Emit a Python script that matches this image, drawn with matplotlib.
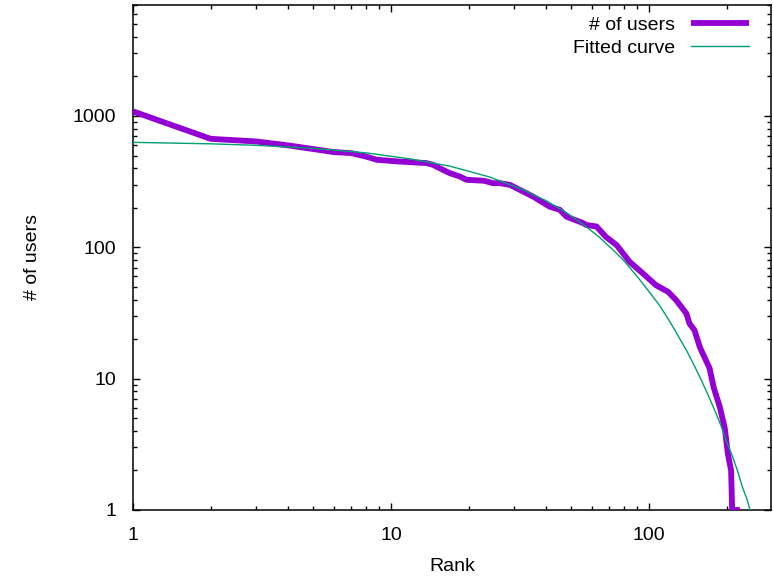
import matplotlib
matplotlib.use("Agg")
import matplotlib.pyplot as plt
from matplotlib.ticker import FixedLocator, LogLocator, NullFormatter, FixedFormatter

plt.rcParams['font.family'] = ['Liberation Sans', 'DejaVu Sans']

rank = [1, 2, 3, 4, 5, 6, 7, 8, 8.8, 10, 10.8, 13.7, 14.5, 15.9, 16.9, 18.5, 19.6,
        23, 24.8, 26.4, 28.9, 35.6, 41.2, 45.1, 47.9, 55.5, 57.1, 62.6, 68.1,
        74.9, 84.1, 94.9, 106.4, 118.6, 127.4, 139.5, 143.5, 150, 157.4, 159.5,
        171.7, 178, 188, 196.6, 202, 208, 210, 225]
users = [1084, 670, 640, 597, 560, 531, 522, 491, 464, 455, 450, 438, 426, 389, 367, 346, 327,
         321, 308, 308, 299, 243, 204, 193, 171, 153, 148, 144, 120,
         104, 77.6, 63, 51.5, 45.8, 39.6, 31.4, 26.3, 23.4, 17.4, 16.4,
         12.0, 8.6, 6.1, 4.2, 2.7, 2.0, 1, 1]

# Fitted curve
fit_rank = [1, 2, 3, 5, 8, 12, 17, 24, 32, 40, 48, 56, 64, 72, 80, 90, 100, 110,
            120, 130, 140, 150, 160, 170, 180, 190, 200, 210, 220, 230, 240, 250]
fit_users = [630, 614, 598, 567, 524, 470, 414, 344, 278, 226, 183, 148, 120, 97,
             79, 60, 46, 36, 27.5, 21, 16.3, 12.5, 9.6, 7.4, 5.7, 4.4, 3.3, 2.6,
             2.0, 1.5, 1.2, 0.9]

x_ticks = [1, 10, 100]
y_ticks = [1, 10, 100, 1000]

fig = plt.figure(figsize=(7.73, 5.77), dpi=100)
ax = fig.add_axes([133 / 773, 1 - 510 / 577, (771 - 133) / 773, (510 - 5) / 577])

ax.plot(rank, users, color='#9400d3', lw=4.2, label='# of users',
        solid_joinstyle='miter', solid_capstyle='butt', zorder=3)
ax.plot(fit_rank, fit_users, color='#009e73', lw=1.0, label='Fitted curve', zorder=4)

ax.set_xscale('log')
ax.set_yscale('log')
ax.set_xlim(1, 297)
ax.set_ylim(1, 7000)

ax.xaxis.set_major_locator(FixedLocator(x_ticks))
ax.xaxis.set_major_formatter(FixedFormatter([str(v) for v in x_ticks]))
ax.yaxis.set_major_locator(FixedLocator(y_ticks))
ax.yaxis.set_major_formatter(FixedFormatter([str(v) for v in y_ticks]))
ax.xaxis.set_minor_locator(LogLocator(base=10, subs=range(2, 10)))
ax.yaxis.set_minor_locator(LogLocator(base=10, subs=range(2, 10)))
ax.xaxis.set_minor_formatter(NullFormatter())
ax.yaxis.set_minor_formatter(NullFormatter())

ax.tick_params(which='both', direction='in', top=True, right=True, colors='black')
ax.tick_params(which='major', length=5, width=1.0, labelsize=14, pad=12)
ax.tick_params(which='minor', length=3, width=1.0)
ax.tick_params(axis='y', which='major', pad=12)
for s in ax.spines.values():
    s.set_linewidth(1.1)

ax.set_xlabel('Rank', fontsize=14, labelpad=10)
ax.set_ylabel('# of users', fontsize=14, labelpad=23)

leg = ax.legend(loc='upper right', bbox_to_anchor=(0.9655, 0.978),
                markerfirst=False, frameon=False, fontsize=14,
                handlelength=3.0, handletextpad=0.8, labelspacing=0.3,
                borderaxespad=0.0, borderpad=0.0)

fig.savefig('out.png', dpi=100)
